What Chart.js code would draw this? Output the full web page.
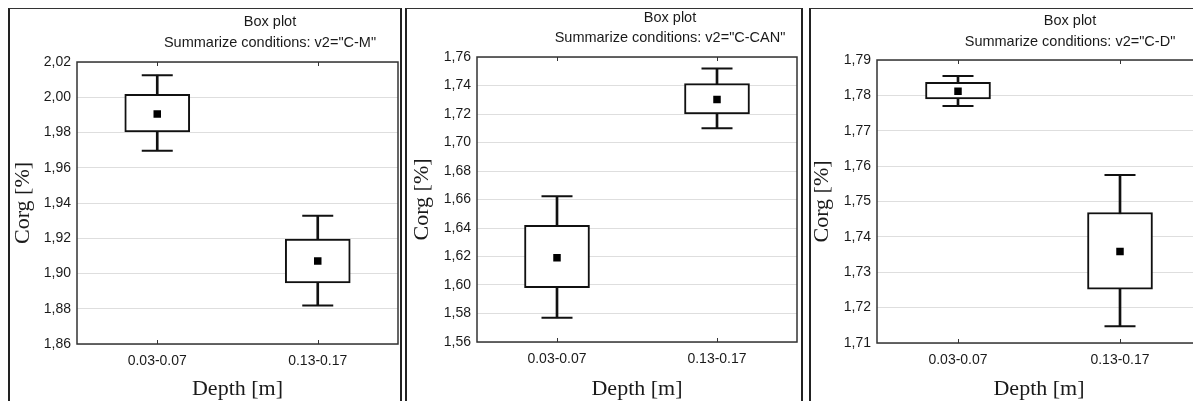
<!DOCTYPE html>
<html>
<head>
<meta charset="utf-8">
<script src="https://cdn.jsdelivr.net/npm/chart.js@4.4.1/dist/chart.umd.min.js"></script>
<style>
  body { margin: 0; background: #fff; overflow: hidden; width: 1193px; height: 401px; position: relative; }
  .panel { position: absolute; top: 8px; height: 400px; border-left: 2px solid #222; border-right: 2px solid #222; border-top: 1px solid #333; background: #fff; }
  canvas { display: block; }
</style>
</head>
<body>
<div class="panel" style="left:8px;width:390px"><canvas id="cm" width="390" height="392"></canvas></div>
<div class="panel" style="left:405px;width:394px"><canvas id="ccan" width="394" height="392"></canvas></div>
<div class="panel" style="left:809px;width:394px"><canvas id="cd" width="394" height="392"></canvas></div>
<script>
const categories = ['0.03-0.07', '0.13-0.17'];

// v2 = "C-M"
const cmMean = [1.9905, 1.9071];
const cmBoxLow = [1.9803, 1.8946];
const cmBoxHigh = [2.0017, 1.9196];
const cmWhiskerLow = [1.9697, 1.8819];
const cmWhiskerHigh = [2.0125, 1.9328];
const cmTicks = [1.86, 2.02, 0.02]; // min, max, step

// v2 = "C-CAN"
const ccanMean = [1.6191, 1.7301];
const ccanBoxLow = [1.5981, 1.7200];
const ccanBoxHigh = [1.6419, 1.7413];
const ccanWhiskerLow = [1.5770, 1.7100];
const ccanWhiskerHigh = [1.6622, 1.7519];
const ccanTicks = [1.56, 1.76, 0.02];

// v2 = "C-D"
const cdMean = [1.7812, 1.7359];
const cdBoxLow = [1.7790, 1.7252];
const cdBoxHigh = [1.7837, 1.7469];
const cdWhiskerLow = [1.7770, 1.7147];
const cdWhiskerHigh = [1.7855, 1.7575];
const cdTicks = [1.71, 1.79, 0.01];

const sansFont = "'Liberation Sans', Arial, sans-serif";
const serifFont = "'Liberation Serif', 'Times New Roman', serif";
const ink = '#111';

// two-line title over each panel, drawn where Statistica puts it
const panelTitle = {
  id: 'panelTitle',
  afterDraw(chart, args, opts) {
    const ctx = chart.ctx;
    ctx.save();
    ctx.fillStyle = '#1a1a1a';
    ctx.font = '14.5px ' + sansFont;
    ctx.textAlign = 'center';
    ctx.textBaseline = 'middle';
    opts.lines.forEach((line, i) => ctx.fillText(line, opts.x, opts.y[i]));
    ctx.restore();
  }
};

// box round the plot area plus the small inner tick marks on the x axis
const plotFrame = {
  id: 'plotFrame',
  afterDraw(chart) {
    const { ctx, chartArea: a } = chart;
    const xs = chart.scales.x;
    ctx.save();
    ctx.strokeStyle = '#333';
    ctx.lineWidth = 1.5;
    ctx.strokeRect(a.left, a.top, a.right - a.left, a.bottom - a.top);
    ctx.lineWidth = 1;
    xs.ticks.forEach((t, i) => {
      const px = Math.round(xs.getPixelForTick(i)) + 0.5;
      ctx.beginPath();
      ctx.moveTo(px, a.bottom); ctx.lineTo(px, a.bottom - 4);
      ctx.moveTo(px, a.top); ctx.lineTo(px, a.top + 4);
      ctx.stroke();
    });
    ctx.restore();
  }
};

function makeBoxPlot(id, mean, boxLow, boxHigh, whiskerLow, whiskerHigh, ticks, title, box) {
  const pairs = (lo, hi) => lo.map((v, i) => [v, hi[i]]);
  return new Chart(document.getElementById(id), {
    data: {
      labels: categories,
      datasets: [
        {
          type: 'line', data: mean, showLine: false, order: 0,
          pointStyle: 'rect', pointRadius: 5.3, pointHoverRadius: 5.3,
          backgroundColor: '#000', borderWidth: 0
        },
        {
          type: 'line', data: whiskerHigh, showLine: false, order: 1,
          pointStyle: 'line', pointRadius: 15.5, pointHoverRadius: 15.5,
          borderColor: ink, borderWidth: 2
        },
        {
          type: 'line', data: whiskerLow, showLine: false, order: 1,
          pointStyle: 'line', pointRadius: 15.5, pointHoverRadius: 15.5,
          borderColor: ink, borderWidth: 2
        },
        {
          type: 'bar', data: pairs(boxLow, boxHigh), order: 2, grouped: false,
          barThickness: 65, backgroundColor: '#fff', borderColor: ink,
          borderWidth: 2, borderSkipped: false
        },
        {
          type: 'bar', data: pairs(whiskerLow, whiskerHigh), order: 3, grouped: false,
          barThickness: 2, backgroundColor: ink, borderWidth: 0
        }
      ]
    },
    options: {
      responsive: false,
      animation: false,
      devicePixelRatio: 1,
      events: [],
      layout: {
        autoPadding: false,
        padding: { top: box.top, right: box.right, left: 0, bottom: 0 }
      },
      scales: {
        x: {
          offset: true,
          grid: { display: false, drawTicks: false },
          border: { display: false },
          ticks: { color: '#1a1a1a', font: { family: sansFont, size: 14 }, padding: 9 },
          title: {
            display: true, text: 'Depth [m]', color: '#1a1a1a',
            font: { family: serifFont, size: 22, lineHeight: 1 },
            padding: { top: 0, bottom: 1 }
          },
          afterFit: (s) => {
            s.height = box.height - box.bottom;
            s.paddingLeft = 0;
            s.paddingRight = 0;
          }
        },
        y: {
          min: ticks[0], max: ticks[1],
          grid: { color: '#dedede', lineWidth: 1, drawTicks: false },
          border: { display: false },
          ticks: {
            stepSize: ticks[2], padding: 6, color: '#1a1a1a',
            font: { family: sansFont, size: 14 },
            callback: (v) => Number(v).toFixed(2).replace('.', ',')
          },
          title: {
            display: true, text: 'Corg [%]', color: '#1a1a1a',
            font: { family: serifFont, size: 22, lineHeight: 1 },
            padding: { top: box.yTitlePad, bottom: 0 }
          },
          afterFit: (s) => { s.width = box.left; }
        }
      },
      plugins: {
        legend: { display: false },
        tooltip: { enabled: false },
        panelTitle: { lines: ['Box plot', title], x: box.titleX, y: box.titleY }
      }
    },
    plugins: [panelTitle, plotFrame]
  });
}

makeBoxPlot('cm', cmMean, cmBoxLow, cmBoxHigh, cmWhiskerLow, cmWhiskerHigh, cmTicks,
  'Summarize conditions: v2="C-M"',
  { top: 53, right: 2, left: 67, bottom: 335, height: 392, yTitlePad: 2, titleX: 260, titleY: [13, 34] });

makeBoxPlot('ccan', ccanMean, ccanBoxLow, ccanBoxHigh, ccanWhiskerLow, ccanWhiskerHigh, ccanTicks,
  'Summarize conditions: v2="C-CAN"',
  { top: 48, right: 4, left: 70, bottom: 333, height: 392, yTitlePad: 4, titleX: 263, titleY: [8.5, 29] });

makeBoxPlot('cd', cdMean, cdBoxLow, cdBoxHigh, cdWhiskerLow, cdWhiskerHigh, cdTicks,
  'Summarize conditions: v2="C-D"',
  { top: 51, right: 4, left: 66, bottom: 334, height: 392, yTitlePad: 0, titleX: 259, titleY: [11.5, 32.5] });
</script>
</body>
</html>
